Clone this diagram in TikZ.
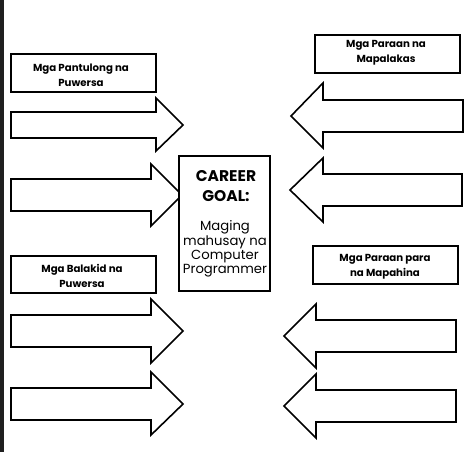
\documentclass[tikz,border=0pt]{standalone}
\usepackage{fontspec}
\setmainfont{Poppins}
\begin{document}
\begin{tikzpicture}[x=1pt,y=-1pt,
  box/.style={draw=black,line width=1.6pt,fill=white},
  arr/.style={draw=black,line width=1.6pt,fill=white,line join=miter},
  lbl/.style={font=\bfseries\fontsize{10.2}{15}\selectfont,align=center,inner sep=0pt},
  goal/.style={font=\fontsize{13.2}{14.2}\selectfont,align=center,inner sep=0pt}]
\useasboundingbox (0,0) rectangle (474,452);
\fill[white] (0,0) rectangle (474,452);
\fill[black!88] (0,0) rectangle (3.5,452);
% left labels
\draw[box] (11,54) rectangle (156,92);
\node[lbl] (l1) at (81,75.5) {Mga Pantulong na\\Puwersa};
\draw[box] (11,256) rectangle (156,293);
\node[lbl] (l2) at (82,276) {Mga Balakid na\\Puwersa};
% right labels
\draw[box] (315,35) rectangle (460,73);
\node[lbl] (r1) at (386,53) {Mga Paraan na\\Mapalakas};
\draw[box] (313,246) rectangle (458,284);
\node[lbl] (r2) at (385,267) {Mga Paraan para\\na Mapahina};
% left arrows
\draw[arr] (11,112) -- (156,112) -- (156,98) -- (183,125) -- (156,151) -- (156,138) -- (11,138) -- cycle;
\draw[arr] (11,179) -- (151,179) -- (151,164) -- (182,195) -- (151,226) -- (151,211) -- (11,211) -- cycle;
\draw[arr] (11,315) -- (151,315) -- (151,299) -- (183,331) -- (151,363) -- (151,347) -- (11,347) -- cycle;
\draw[arr] (11,388) -- (151,388) -- (151,372) -- (183,404) -- (151,435) -- (151,420) -- (11,420) -- cycle;
% right arrows
\draw[arr] (463,100) -- (323,100) -- (323,83) -- (291,116) -- (323,148) -- (323,132) -- (463,132) -- cycle;
\draw[arr] (462,174) -- (323,174) -- (323,158) -- (290,190) -- (323,222) -- (323,206) -- (462,206) -- cycle;
\draw[arr] (456,320) -- (316,320) -- (316,304) -- (284,336) -- (316,368) -- (316,352) -- (456,352) -- cycle;
\draw[arr] (456,390) -- (316,390) -- (316,374) -- (284,406) -- (316,438) -- (316,422) -- (456,422) -- cycle;
% center box
\draw[box] (179,156) rectangle (270,291);
\node[goal,font=\bfseries\fontsize{15.5}{20}\selectfont] (g1) at (226,186) {CAREER\\GOAL:};
\node[goal] (g2) at (225,249) {Maging\\mahusay na\\Computer\\Programmer};
\end{tikzpicture}
\end{document}
